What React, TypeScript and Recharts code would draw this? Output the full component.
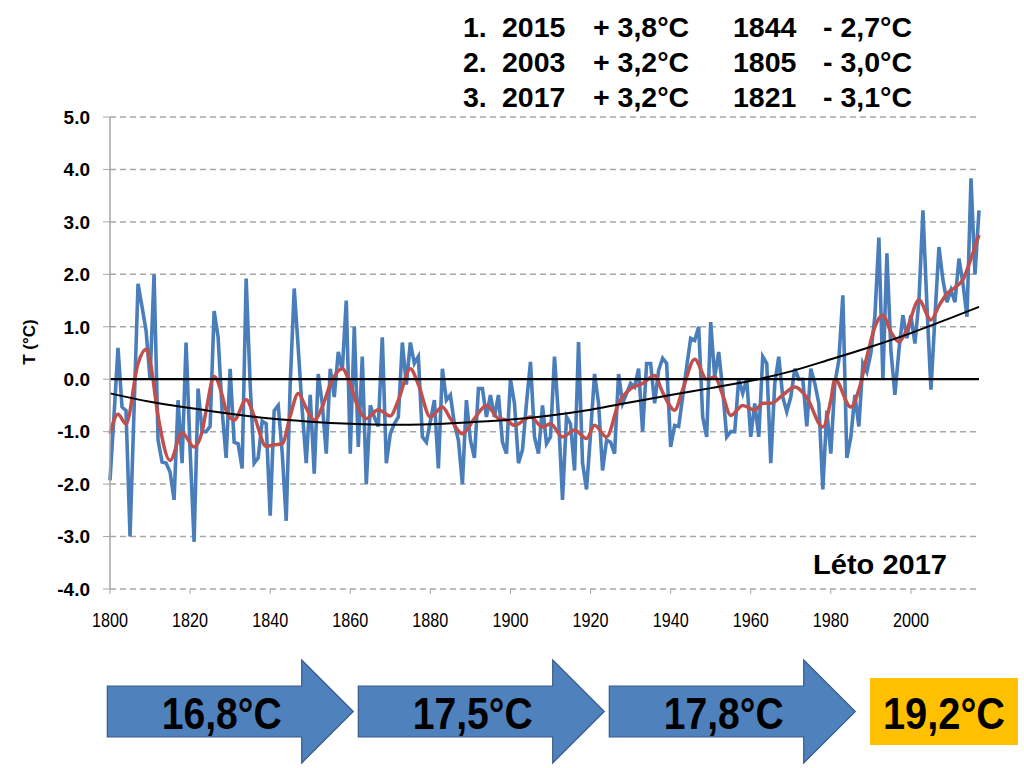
import { CartesianGrid, Line, LineChart, ReferenceLine, XAxis, YAxis } from "recharts";

// summer temperature anomaly (°C), one value per year from 1800 to 2017
const temps = [
  -1.93, -0.7, 0.6, -0.53, -0.6, -3.0, -0.6, 1.82, 1.38, 0.93,
  0.0, 2.0, -1.16, -1.58, -1.6, -1.77, -2.3, -0.4, -1.6, 0.7,
  -1.35, -3.1, -0.18, -1.0, -1.0, -0.9, 1.3, 0.8, -0.6, -1.5,
  0.2, -1.2, -1.23, -1.7, 1.92, -0.1, -1.6, -1.5, -0.8, -0.85,
  -2.6, -0.6, -0.5, -1.4, -2.7, -0.1, 1.73, 0.6, -0.6, -1.6,
  -0.3, -1.8, 0.1, -0.46, -1.42, 0.2, -0.34, 0.52, 0.17, 1.5,
  -1.42, 1.0, -1.29, 0.43, -2.0, -0.5, -0.72, -0.9, 0.8, -1.6,
  -1.04, -0.85, -0.72, 0.7, -0.1, 0.7, 0.3, 0.43, -1.1, -1.2,
  -0.8, -0.4, -1.7, 0.2, -0.4, -0.3, -0.85, -1.16, -2.0, -0.4,
  -1.16, -1.5, -0.18, -0.18, -0.72, -0.3, -0.72, -0.3, -1.2, -1.42,
  0.0, -0.46, -1.6, -1.35, -0.46, 0.33, -1.1, -1.42, -0.5, -1.23,
  -1.1, 0.43, -0.72, -2.3, -0.72, -0.85, -1.74, 0.71, -1.6, -2.1,
  -1.04, 0.1, -0.46, -1.74, -1.16, -1.2, -1.42, 0.1, -0.46, -0.27,
  -0.08, -0.15, 0.2, -1.0, 0.3, 0.3, -0.46, 0.17, 0.4, 0.3,
  -1.29, -0.88, -0.9, -0.34, 0.24, 0.78, 0.74, 1.0, -0.72, -1.1,
  1.09, 0.04, 0.52, -0.2, -1.1, -1.0, -1.0, 0.0, -0.27, 0.0,
  -1.1, -0.46, -1.1, 0.43, 0.3, -1.6, -0.08, 0.43, -0.34, -0.62,
  -0.34, 0.2, 0.0, 0.0, -0.9, 0.2, -0.08, -0.46, -2.1, -0.6,
  -1.42, -0.08, 0.36, 1.6, -1.5, -1.1, -0.3, -0.9, 0.3, 0.14,
  0.5, 1.2, 2.7, 0.0, 2.4, 0.55, -0.3, 0.55, 1.22, 0.78,
  1.22, 0.68, 1.5, 3.22, 1.4, -0.2, 1.19, 2.52, 1.89, 1.47,
  1.7, 1.47, 2.3, 1.82, 1.19, 3.83, 2.0, 3.22,
];

// smoothed curve, read at its turning points
const smoothYears = [
  1800, 1802, 1804, 1807, 1809, 1810, 1812, 1815, 1818, 1821, 1823, 1824, 1826, 1828, 1829,
  1831, 1834, 1836, 1839, 1841, 1843, 1845, 1847, 1849, 1851, 1853, 1855, 1858, 1860, 1862,
  1864, 1867, 1870, 1872, 1875, 1877, 1880, 1883, 1885, 1888, 1891, 1894, 1897, 1899, 1901,
  1905, 1908, 1910, 1913, 1916, 1919, 1921, 1924, 1927, 1930, 1933, 1936, 1938, 1941, 1943,
  1946, 1949, 1951, 1953, 1955, 1958, 1961, 1963, 1965, 1968, 1971, 1974, 1978, 1980, 1981,
  1985, 1987, 1989, 1991, 1993, 1995, 1997, 1999, 2002, 2005, 2007, 2009, 2011, 2013, 2015, 2017,
];
const smoothValues = [
  -1.04, -0.67, -0.85, 0.3, 0.57, 0.35, -0.7, -1.55, -1.02, -1.29, -1.0, -0.6, 0.05, -0.3, -0.6,
  -0.78, -0.39, -0.7, -1.28, -1.25, -1.23, -0.7, -0.27, -0.55, -0.78, -0.53, -0.1, 0.2, -0.1, -0.55,
  -0.75, -0.58, -0.7, -0.4, 0.2, -0.1, -0.72, -0.53, -0.75, -1.04, -0.75, -0.5, -0.75, -0.78, -0.88,
  -0.72, -0.91, -0.85, -1.1, -0.97, -1.13, -0.88, -1.1, -0.46, -0.18, -0.08, 0.07, -0.25, -0.59, -0.2,
  0.38, 0.0, 0.04, -0.3, -0.69, -0.5, -0.59, -0.46, -0.46, -0.3, -0.15, -0.35, -0.91, -0.4, 0.0,
  -0.53, -0.2, 0.43, 1.0, 1.22, 0.9, 0.71, 0.95, 1.51, 1.13, 1.4, 1.63, 1.75, 1.9, 2.3, 2.75,
];

// polynomial trend
const trendYears = [1800, 1810, 1820, 1830, 1840, 1850, 1860, 1870, 1880, 1890, 1900, 1910, 1920, 1930, 1940, 1950, 1960, 1970, 1980, 1990, 2000, 2010, 2017];
const trendValues = [-0.27, -0.43, -0.55, -0.66, -0.75, -0.81, -0.85, -0.87, -0.86, -0.82, -0.77, -0.69, -0.58, -0.44, -0.3, -0.17, -0.03, 0.15, 0.38, 0.62, 0.88, 1.17, 1.38];

const yearTicks = [1800, 1820, 1840, 1860, 1880, 1900, 1920, 1940, 1960, 1980, 2000];
const tempTicks = [-4, -3, -2, -1, 0, 1, 2, 3, 4, 5];

const rankLabels = ["1.", "2.", "3."];
const warmYears = ["2015", "2003", "2017"];
const warmValues = ["+ 3,8°C", "+ 3,2°C", "+ 3,2°C"];
const coldYears = ["1844", "1805", "1821"];
const coldValues = ["- 2,7°C", "- 3,0°C", "- 3,1°C"];

const periodMeans = ["16,8°C", "17,5°C", "17,8°C"];
const currentMean = "19,2°C";

const smoothByYear = new Map(smoothYears.map((y, i) => [y, smoothValues[i]]));
const trendByYear = new Map(trendYears.map((y, i) => [y, trendValues[i]]));

const data = temps.map((temp, i) => {
  const year = 1800 + i;
  return {
    year,
    temp,
    smooth: smoothByYear.get(year) ?? null,
    trend: trendByYear.get(year) ?? null,
  };
});

const font = "'Liberation Sans', Arial, sans-serif";

// Calibri-like narrow year labels
function YearTick(props: any) {
  const { x, y, payload } = props;
  return (
    <text x={x} y={y + 14} textAnchor="middle" fontFamily={font} fontSize={19.5} fill="#000" textLength={36} lengthAdjust="spacingAndGlyphs">
      {payload.value}
    </text>
  );
}

function Arrow({ left, label }: { left: number; label: string }) {
  const base = left + 194.4;
  const tip = left + 246;
  const d = `M${left},686 L${base},686 L${base},660 L${tip},711.5 L${base},763 L${base},737 L${left},737 Z`;
  return (
    <g>
      <path d={d} fill="#4F81BD" stroke="#385D8A" strokeWidth={1.2} />
      <text x={left + 114.4} y={728.5} textAnchor="middle" fontFamily={font} fontWeight="bold" fontSize={44} fill="#000" textLength={120} lengthAdjust="spacingAndGlyphs">
        {label}
      </text>
    </g>
  );
}

export default function App() {
  const colX = [463, 502, 593, 733, 823];
  return (
    <div style={{ position: "absolute", left: 0, top: 0, width: 1024, height: 768, background: "#fff" }}>
      <LineChart width={1024} height={768} data={data} margin={{ top: 117, right: 45, bottom: 139, left: 0 }}>
        <CartesianGrid vertical={false} stroke="#a6a6a6" strokeWidth={1.5} strokeDasharray="6 4" />
        <XAxis
          dataKey="year"
          type="number"
          domain={[1800, 2017]}
          ticks={yearTicks}
          axisLine={false}
          tickLine={{ stroke: "#a6a6a6" }}
          tickSize={5}
          tickMargin={19}
          height={40}
          tick={<YearTick />}
        />
        <YAxis
          domain={[-4, 5]}
          ticks={tempTicks}
          width={110}
          tickFormatter={(v: number) => v.toFixed(1)}
          axisLine={{ stroke: "#a6a6a6", strokeWidth: 1.5 }}
          tickLine={{ stroke: "#a6a6a6" }}
          tickSize={7}
          tickMargin={13}
          tick={{ fontSize: 19, fill: "#000", fontWeight: "bold", fontFamily: font }}
        />
        <Line dataKey="temp" type="linear" stroke="#4A7EBB" strokeWidth={3.6} dot={false} isAnimationActive={false} />
        <Line dataKey="smooth" type="monotone" stroke="#C0504D" strokeWidth={3.5} dot={false} connectNulls isAnimationActive={false} />
        <ReferenceLine segment={[{ x: 1800, y: 0 }, { x: 2017, y: 0 }]} stroke="#000" strokeWidth={2.2} />
        <Line dataKey="trend" type="monotone" stroke="#000" strokeWidth={2} dot={false} connectNulls isAnimationActive={false} />
      </LineChart>
      <svg width={1024} height={768} style={{ position: "absolute", left: 0, top: 0, pointerEvents: "none" }}>
        <text
          x={29}
          y={342}
          transform="rotate(-90 29 342)"
          textAnchor="middle"
          dominantBaseline="central"
          fontFamily={font}
          fontWeight="bold"
          fontSize={17}
        >
          T (°C)
        </text>
        {rankLabels.map((rank, i) => {
          const y = 37 + i * 35;
          const cells = [rank, warmYears[i], warmValues[i], coldYears[i], coldValues[i]];
          return cells.map((c, j) => (
            <text key={`${i}-${j}`} x={colX[j]} y={y} fontFamily={font} fontWeight="bold" fontSize={28.5} fill="#000">
              {c}
            </text>
          ));
        })}
        <text x={947} y={574} textAnchor="end" fontFamily={font} fontWeight="bold" fontSize={28} fill="#000" textLength={134} lengthAdjust="spacingAndGlyphs">
          Léto 2017
        </text>
        {periodMeans.map((m, i) => (
          <Arrow key={m} left={107.3 + 251 * i} label={m} />
        ))}
        <rect x={870} y={678} width={148} height={67} fill="#FFC000" />
        <text x={944} y={728.5} textAnchor="middle" fontFamily={font} fontWeight="bold" fontSize={44} fill="#000" textLength={122} lengthAdjust="spacingAndGlyphs">
          {currentMean}
        </text>
      </svg>
    </div>
  );
}
